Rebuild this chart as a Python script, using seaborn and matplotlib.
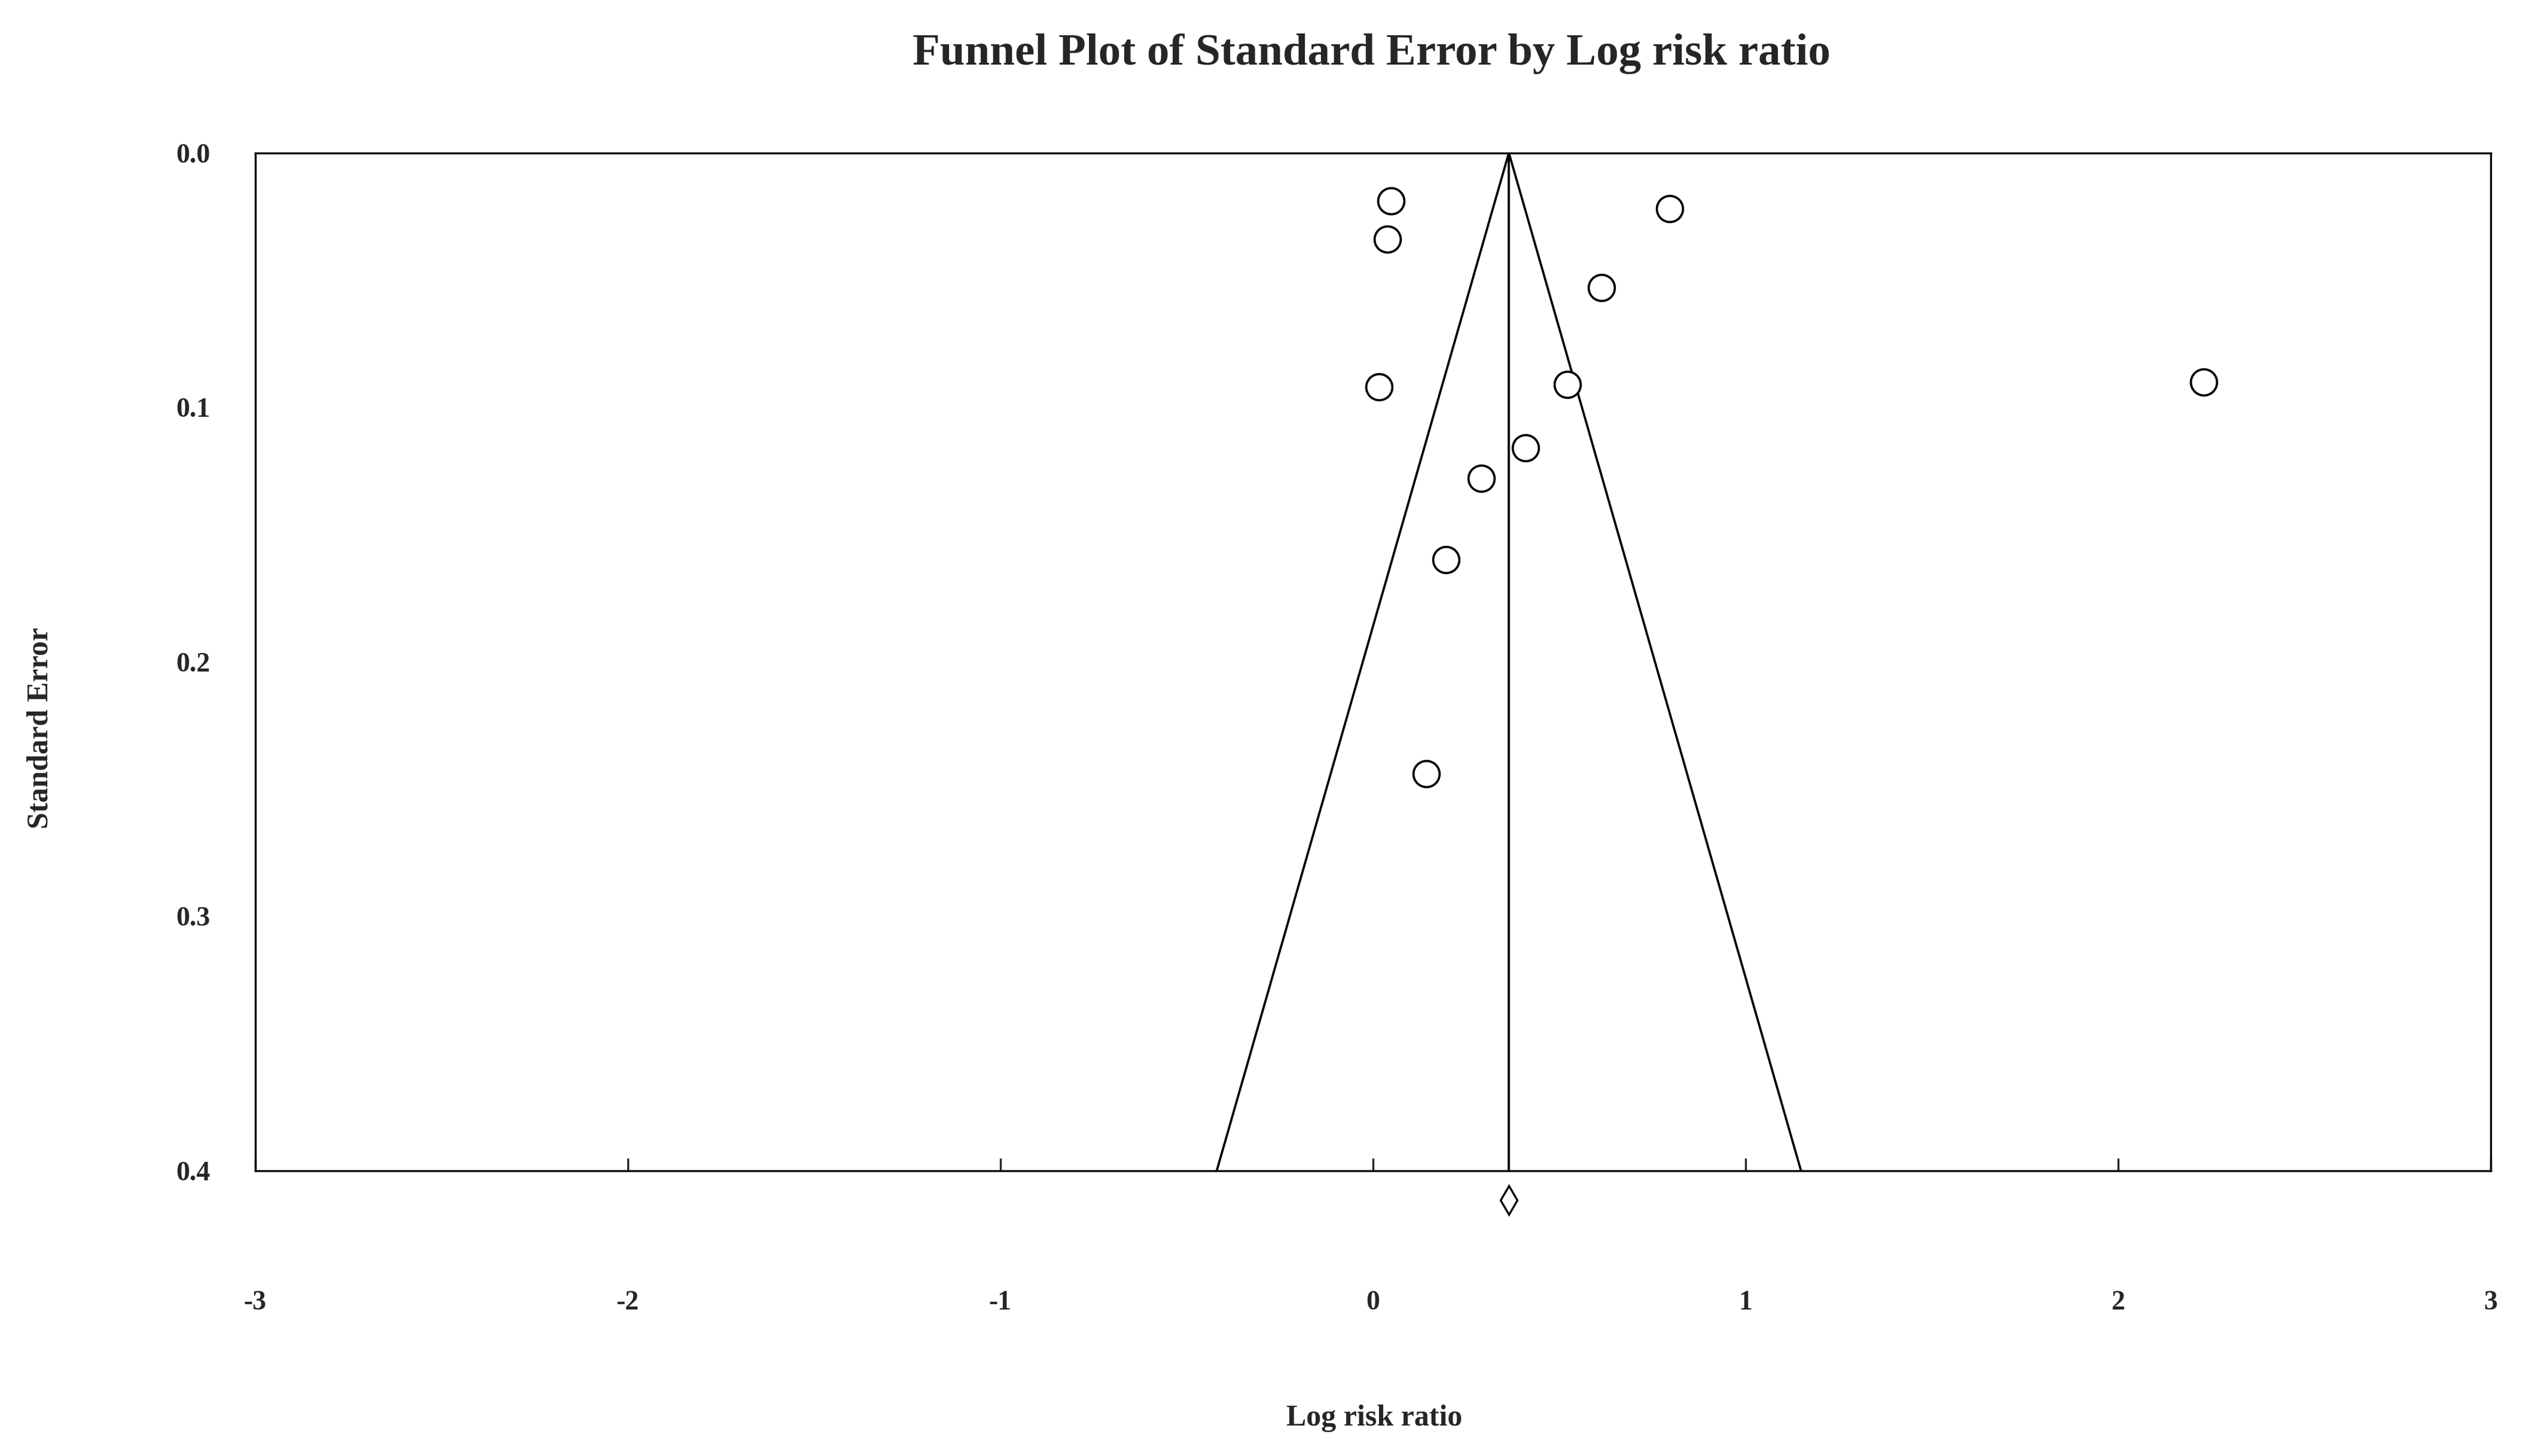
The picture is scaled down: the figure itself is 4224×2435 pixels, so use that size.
import numpy as np
import pandas as pd
import seaborn as sns
import matplotlib.pyplot as plt

# studies: log risk ratio and standard error
log_rr = [0.048, 0.039, 0.796, 0.613, 0.017, 0.522, 2.23, 0.409, 0.291, 0.196, 0.143]
std_err = [0.019, 0.034, 0.022, 0.053, 0.092, 0.091, 0.090, 0.116, 0.128, 0.160, 0.244]
pooled = 0.365
se_max = 0.4

x_ticks = [-3, -2, -1, 0, 1, 2, 3]
y_ticks = [0.0, 0.1, 0.2, 0.3, 0.4]

df = pd.DataFrame({'Log risk ratio': log_rr, 'Standard Error': std_err})

sns.set_style('white')
plt.rcParams['font.family'] = ['Liberation Serif', 'DejaVu Serif']
plt.rcParams['font.weight'] = 'bold'

fig = plt.figure(figsize=(14.08, 8.117), dpi=300)
ax = fig.add_axes([0.101, 0.196, 0.885, 0.699])

# funnel and pooled line
ax.plot([pooled - 1.96 * se_max, pooled, pooled + 1.96 * se_max], [se_max, 0, se_max],
        color='black', lw=0.9)
ax.plot([pooled, pooled], [0, se_max], color='black', lw=0.9)

sns.scatterplot(data=df, x='Log risk ratio', y='Standard Error', ax=ax, s=110,
                facecolor='white', edgecolor='black', linewidth=0.9, zorder=3)

# pooled estimate diamond under the axis
ax.plot([pooled], [0.4115], marker='d', ms=8, mfc='white', mec='black', mew=0.8,
        clip_on=False, zorder=4)

ax.set_xlim(-3, 3)
ax.set_ylim(0.4, 0.0)
ax.set_xticks(x_ticks)
ax.set_yticks(y_ticks)
ax.set_xticklabels([str(t) for t in x_ticks], fontsize=11, fontweight='bold')
ax.set_yticklabels([f'{t:.1f}' for t in y_ticks], fontsize=11, fontweight='bold')
ax.tick_params(axis='x', direction='in', length=5, width=0.8, pad=48, bottom=True)
ax.tick_params(axis='y', length=0, pad=18)
for sp in ax.spines.values():
    sp.set_linewidth(0.8)
    sp.set_color('black')

ax.set_xlabel('')
ax.set_ylabel('')
fig.text(0.544, 0.026, 'Log risk ratio', fontsize=12, fontweight='bold', ha='center', va='center')
fig.text(0.016, 0.5, 'Standard Error', fontsize=12, fontweight='bold', rotation=90,
         ha='center', va='center')
fig.suptitle('Funnel Plot of Standard Error by Log risk ratio', fontsize=18,
             fontweight='bold', x=0.543, y=0.977)

fig.savefig('out.png', dpi=300, facecolor='white')
